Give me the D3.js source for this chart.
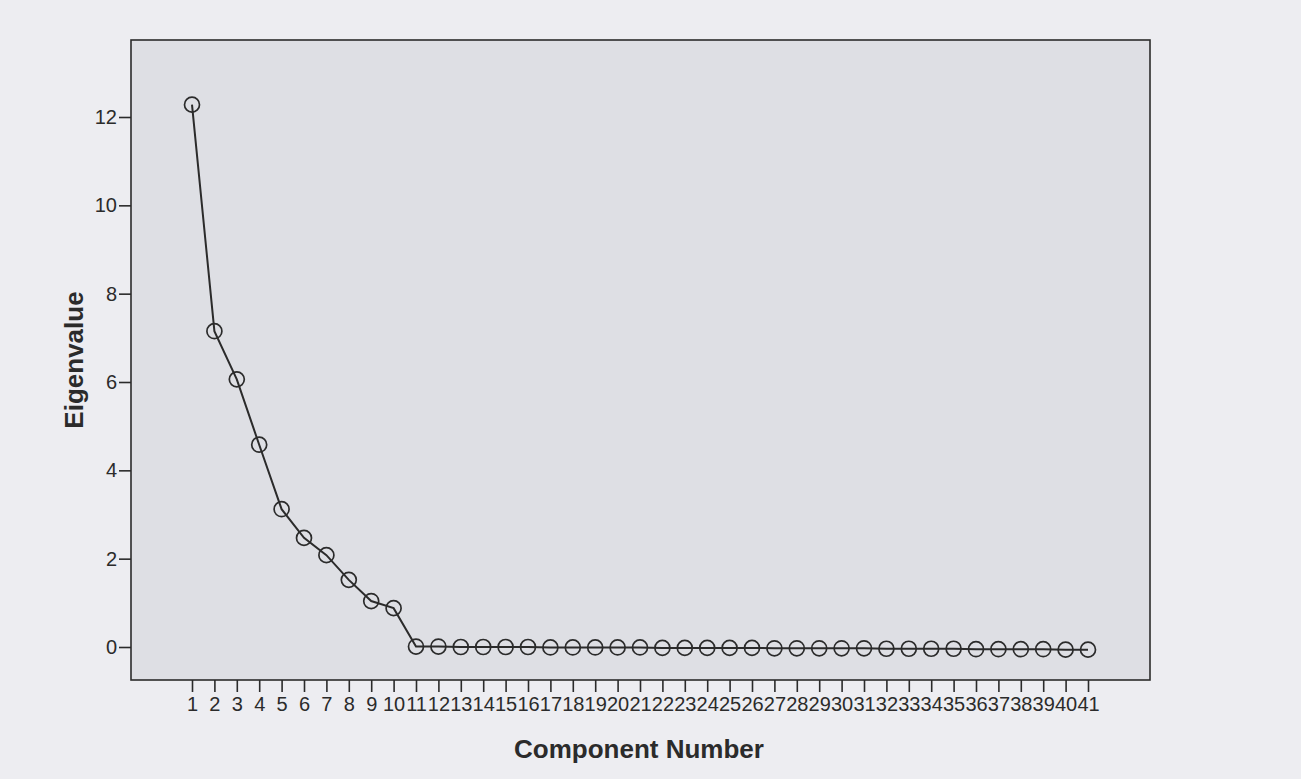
<!DOCTYPE html>
<html>
<head>
<meta charset="utf-8">
<script src="https://cdn.jsdelivr.net/npm/d3@7"></script>
<style>
  body { margin: 0; background: #ededf1; }
  svg { display: block; }
</style>
</head>
<body>
<div id="chart"></div>
<script>
// Data
// ================================
var components = d3.range(1, 42);
var eigenvalues = [12.28, 7.15, 6.06, 4.58, 3.12, 2.47, 2.08, 1.52, 1.04, 0.88,
  0.01, 0.01, 0.0, 0.0, 0.0, 0.0, -0.01, -0.01, -0.01, -0.01,
  -0.01, -0.02, -0.02, -0.02, -0.02, -0.02, -0.03, -0.03, -0.03, -0.03,
  -0.03, -0.04, -0.04, -0.04, -0.04, -0.05, -0.05, -0.05, -0.05, -0.06, -0.06];
var yTicks = [0, 2, 4, 6, 8, 10, 12];

// Set up chart
// ================================
var svgWidth = 1301;
var svgHeight = 779;

var frame = { left: 131, top: 40, right: 1150, bottom: 680 };

var svg = d3.select("#chart")
  .append("svg")
  .attr("width", svgWidth)
  .attr("height", svgHeight);

var xScale = d3.scalePoint()
  .domain(components)
  .range([192, 1088]);

var yScale = d3.scaleLinear()
  .domain([0, 12])
  .range([647, 117]);

// plot background + frame
svg.append("rect")
  .attr("x", frame.left)
  .attr("y", frame.top)
  .attr("width", frame.right - frame.left)
  .attr("height", frame.bottom - frame.top)
  .attr("fill", "#dedfe4")
  .attr("stroke", "#2b2b2b")
  .attr("stroke-width", 1.6);

// y axis
var leftAxis = d3.axisLeft(yScale)
  .tickValues(yTicks)
  .tickSize(12)
  .tickPadding(2);

var yAxisG = svg.append("g")
  .attr("transform", `translate(${frame.left}, 0)`)
  .call(leftAxis);
yAxisG.select(".domain").remove();
yAxisG.selectAll("line").attr("stroke", "#2b2b2b").attr("stroke-width", 1.6);
yAxisG.selectAll("text")
  .attr("fill", "#2b2b2b")
  .style("font-family", "Liberation Sans, Arial, sans-serif")
  .style("font-size", "20px");

// x axis
var bottomAxis = d3.axisBottom(xScale)
  .tickSize(12)
  .tickPadding(5);

var xAxisG = svg.append("g")
  .attr("transform", `translate(0, ${frame.bottom})`)
  .call(bottomAxis);
xAxisG.select(".domain").remove();
xAxisG.selectAll("line").attr("stroke", "#2b2b2b").attr("stroke-width", 1.6);
xAxisG.selectAll("text")
  .attr("fill", "#2b2b2b")
  .style("font-family", "Liberation Sans, Arial, sans-serif")
  .style("font-size", "20px");

// line
var points = components.map((c, i) => ({ c: c, v: eigenvalues[i] }));

var line = d3.line()
  .x(d => xScale(d.c))
  .y(d => yScale(d.v));

svg.append("path")
  .datum(points)
  .attr("d", line)
  .attr("fill", "none")
  .attr("stroke", "#2b2b2b")
  .attr("stroke-width", 2);

svg.selectAll("circle.pt")
  .data(points)
  .enter()
  .append("circle")
  .classed("pt", true)
  .attr("cx", d => xScale(d.c))
  .attr("cy", d => yScale(d.v))
  .attr("r", 7.5)
  .attr("fill", "none")
  .attr("stroke", "#2b2b2b")
  .attr("stroke-width", 1.7);

// axis titles
svg.append("text")
  .attr("transform", "rotate(-90)")
  .attr("x", -360)
  .attr("y", 83)
  .attr("text-anchor", "middle")
  .attr("fill", "#2b2b2b")
  .style("font-family", "Liberation Sans, Arial, sans-serif")
  .style("font-size", "26px")
  .style("font-weight", "bold")
  .text("Eigenvalue");

svg.append("text")
  .attr("x", 639)
  .attr("y", 758)
  .attr("text-anchor", "middle")
  .attr("fill", "#2b2b2b")
  .style("font-family", "Liberation Sans, Arial, sans-serif")
  .style("font-size", "26px")
  .style("font-weight", "bold")
  .text("Component Number");
</script>
</body>
</html>
